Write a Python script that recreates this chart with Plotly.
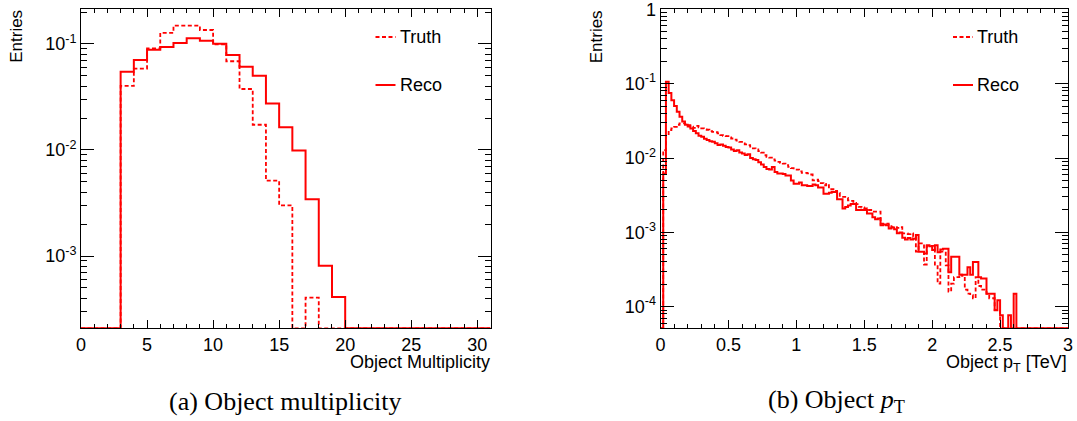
import numpy as np
import plotly.graph_objects as go

# ---------------- data ----------------
# (a) object multiplicity: 31 unit-width bins from 0 to 31
mult_edges = list(range(0, 32))
mult_reco = [0, 0, 0, 0.0548, 0.0706, 0.0883, 0.0937, 0.102, 0.113, 0.107,
             0.1006, 0.0788, 0.0611, 0.0502, 0.0275, 0.0164, 0.0099, 0.00343,
             0.00081, 0.00041, 0, 0, 0, 0, 0, 0, 0, 0, 0, 0, 0]
mult_truth = [0, 0, 0, 0.0402, 0.0585, 0.091, 0.127, 0.149, 0.149, 0.1355,
              0.0993, 0.0687, 0.0376, 0.0173, 0.00513, 0.0030, 0, 0.000405,
              0, 0, 0, 0, 0, 0, 0, 0, 0, 0, 0, 0, 0]

# (b) object pT [TeV]: 150 bins of 0.02 TeV from 0 to 3
pt_edges = [round(0.02 * i, 2) for i in range(151)]
pt_reco = [
    0, 0.0062, 0.106, 0.075, 0.060, 0.050, 0.042, 0.036, 0.031, 0.028,
    0.0265, 0.025, 0.023, 0.0215, 0.0200, 0.0193, 0.0182, 0.0175, 0.0168, 0.0165,
    0.0158, 0.0150, 0.0152, 0.0146, 0.0141, 0.0138, 0.0130, 0.0124, 0.0127, 0.0119,
    0.0115, 0.0110, 0.0112, 0.0100, 0.0096, 0.0094, 0.0088, 0.0082, 0.0076, 0.0071,
    0.0070, 0.0076, 0.0065, 0.0062, 0.0062, 0.0061, 0.0058, 0.0058, 0.0050, 0.0045,
    0.0045, 0.0047, 0.0043, 0.0043, 0.0042, 0.0042, 0.0044, 0.0043, 0.0040, 0.0040,
    0.0033, 0.0033, 0.0034, 0.0035, 0.0035, 0.0028, 0.0028, 0.0021, 0.0022, 0.0023,
    0.0024, 0.0024, 0.0020, 0.0020, 0.0020, 0.0020, 0.0018, 0.0018, 0.0016, 0.0015,
    0.00154, 0.00125, 0.00128, 0.00125, 0.00113, 0.00116, 0.00110, 0.00097, 0.00100, 0.00085,
    0.00080, 0.00084, 0.00080, 0.00082, 0.00092, 0.00055, 0.00055, 0.00052, 0.00067, 0.00065,
    0.00058, 0.00067, 0.00054, 0.00059, 0.00060, 0.00060, 0.00029, 0.00047, 0.00047, 0.00047,
    0.00027, 0.00027, 0.00027, 0.00034, 0.00027, 0.00040, 0.00040, 0.00025, 0.00024, 0.00024,
    0.00015, 0.00015, 0.00015, 0.00009, 0.000122, 0.000077, 0, 0, 0.000077, 0,
    0.00015, 0, 0, 0, 0, 0, 0, 0, 0, 0,
    0, 0, 0, 0, 0, 0, 0, 0, 0, 0,
]
pt_truth = [
    0, 0.0128, 0.0203, 0.0238, 0.0250, 0.0263, 0.0280, 0.0292, 0.0292, 0.0285,
    0.0277, 0.0265, 0.0255, 0.0270, 0.0259, 0.0250, 0.0243, 0.0240, 0.0230, 0.0225,
    0.0222, 0.0215, 0.0203, 0.0199, 0.0197, 0.0190, 0.0183, 0.0177, 0.0171, 0.0165,
    0.0157, 0.0153, 0.0149, 0.0142, 0.0135, 0.0131, 0.0124, 0.0118, 0.0109, 0.0104,
    0.0101, 0.0096, 0.0092, 0.0089, 0.0086, 0.0084, 0.0080, 0.0076, 0.0073, 0.0070,
    0.0070, 0.0066, 0.0063, 0.0063, 0.0062, 0.0060, 0.0050, 0.0051, 0.0049, 0.0046,
    0.0043, 0.0045, 0.0038, 0.0038, 0.0036, 0.0034, 0.0030, 0.0030, 0.0029, 0.0027,
    0.00265, 0.0025, 0.0024, 0.0022, 0.00216, 0.0021, 0.0020, 0.0020, 0.0019, 0.0019,
    0.0019, 0.00131, 0.0013, 0.00131, 0.00125, 0.00118, 0.00118, 0.00115, 0.00118, 0.00097,
    0.00097, 0.00095, 0.00097, 0.00087, 0.00055, 0.00071, 0.00071, 0.00037, 0.00066, 0.00066,
    0.00066, 0.00037, 0.000205, 0.00055, 0.00055, 0.00036, 0.00016, 0.000205, 0.00025, 0.00025,
    0.00027, 0.00026, 0.00017, 0.00015, 0.000143, 0.00013, 0.00025, 0.00019, 0.00017, 0.00017,
    0.00015, 0.00013, 0.00013, 0.00009, 0.00009, 0, 0, 0, 0, 0,
    0, 0, 0, 0, 0, 0, 0, 0, 0, 0,
    0, 0, 0, 0, 0, 0, 0, 0, 0, 0,
]

mult_ticks = [0, 5, 10, 15, 20, 25, 30]
pt_ticks = [0, 0.5, 1, 1.5, 2, 2.5, 3]
pt_tick_text = ["0", "0.5", "1", "1.5", "2", "2.5", "3"]

# ---------------- style ----------------
W, H = 1077, 421
RED = "#ff0000"
FONT = "Liberation Sans, Arial, sans-serif"
SERIF = "Liberation Serif, serif"

# log10 y ranges of the two frames
mult_yrange = [-3.682, -0.673]
pt_yrange = [-4.29, 0.0]

# frame positions in pixels: (left, right, top, bottom)
frame_a = (81, 490.5, 9.3, 328.3)
frame_b = (660.5, 1068, 9.3, 328.3)


def px_x(p):
    return p / W


def px_y(p):
    return 1 - p / H


def step_xy(edges, values, ymin):
    # ROOT-like histogram outline; empty bins rest on the frame bottom
    v = [max(val, ymin) for val in values]
    return list(edges), v + [v[-1]]


def log_minor(lo, hi):
    vals = []
    for d in range(int(np.floor(lo)) - 1, int(np.ceil(hi)) + 1):
        for k in range(2, 10):
            val = k * 10.0 ** d
            if 10 ** lo <= val <= 10 ** hi:
                vals.append(val)
    return vals


fig = go.Figure()

panels = [
    ("x", "y", mult_edges, mult_reco, mult_truth, mult_yrange),
    ("x2", "y2", pt_edges, pt_reco, pt_truth, pt_yrange),
]
for xa, ya, edges, reco, truth, yr in panels:
    ymin = 10 ** yr[0]
    tx, ty = step_xy(edges, truth, ymin)
    fig.add_trace(go.Scatter(x=tx, y=ty, xaxis=xa, yaxis=ya, mode="lines",
                             line=dict(color=RED, width=1.8, dash="4px,2.5px", shape="hv"),
                             name="Truth", showlegend=False, hoverinfo="skip"))
    rx, ry = step_xy(edges, reco, ymin)
    fig.add_trace(go.Scatter(x=rx, y=ry, xaxis=xa, yaxis=ya, mode="lines",
                             line=dict(color=RED, width=2, shape="hv"),
                             name="Reco", showlegend=False, hoverinfo="skip"))

common_axis = dict(showline=True, linecolor="black", linewidth=1, mirror="allticks",
                   ticks="inside", tickcolor="black", tickwidth=1, automargin=False,
                   showgrid=False, zeroline=False, ticklabeloverflow="allow",
                   tickfont=dict(family=FONT, size=18, color="black"))

# x axes
fig.update_layout(
    xaxis=dict(common_axis, domain=[px_x(frame_a[0]), px_x(frame_a[1])], anchor="y",
               range=[0, 31], tickvals=mult_ticks, ticklen=8,
               minor=dict(ticks="inside", ticklen=4, dtick=1, tickcolor="black", showgrid=False)),
    xaxis2=dict(common_axis, domain=[px_x(frame_b[0]), px_x(frame_b[1])], anchor="y2",
                range=[0, 3], tickvals=pt_ticks, ticktext=pt_tick_text, ticklen=8,
                minor=dict(ticks="inside", ticklen=4, dtick=0.1, tickcolor="black", showgrid=False)),
    yaxis=dict(common_axis, type="log", domain=[px_y(frame_a[3]), px_y(frame_a[2])], anchor="x",
               range=mult_yrange, tickvals=[1e-1, 1e-2, 1e-3],
               ticktext=["10<sup>-1</sup>", "10<sup>-2</sup>", "10<sup>-3</sup>"], ticklen=13,
               minor=dict(ticks="inside", ticklen=6, tickvals=log_minor(*mult_yrange),
                          tickcolor="black", showgrid=False)),
    yaxis2=dict(common_axis, type="log", domain=[px_y(frame_b[3]), px_y(frame_b[2])], anchor="x2",
                range=pt_yrange, tickvals=[1, 1e-1, 1e-2, 1e-3, 1e-4],
                ticktext=["1", "10<sup>-1</sup>", "10<sup>-2</sup>", "10<sup>-3</sup>", "10<sup>-4</sup>"],
                ticklen=13,
                minor=dict(ticks="inside", ticklen=6, tickvals=log_minor(*pt_yrange),
                           tickcolor="black", showgrid=False)),
)

annotations = []
shapes = []
# axis titles
for (l, r, t, b), xtitle in [(frame_a, "Object Multiplicity"),
                             (frame_b, "Object p<sub>T</sub> [TeV]")]:
    annotations.append(dict(text=xtitle, x=px_x(r + 1), y=px_y(350), xref="paper", yref="paper",
                            xanchor="right", yanchor="top", showarrow=False,
                            font=dict(family=FONT, size=18, color="black")))
    annotations.append(dict(text="Entries", x=px_x(l - 64), y=px_y(t - 1), xref="paper", yref="paper",
                            xanchor="center", yanchor="top", textangle=-90, showarrow=False,
                            font=dict(family=FONT, size=17, color="black")))
    # legend entries
    for label, ypix, dash in [("Truth", 37, "4px,2.5px"), ("Reco", 85, "solid")]:
        shapes.append(dict(type="line", xref="paper", yref="paper",
                           x0=px_x(r - 115), x1=px_x(r - 95), y0=px_y(ypix), y1=px_y(ypix),
                           line=dict(color=RED, width=2, dash=dash)))
        annotations.append(dict(text=label, x=px_x(r - 93), y=px_y(ypix), xref="paper", yref="paper",
                                xanchor="left", yanchor="middle", showarrow=False,
                                font=dict(family=FONT, size=18, color="black")))

# sub-figure captions
annotations.append(dict(text="(a) Object multiplicity", x=px_x(285), y=px_y(401),
                        xref="paper", yref="paper", xanchor="center", yanchor="middle",
                        showarrow=False, font=dict(family=SERIF, size=26, color="black")))
annotations.append(dict(text="(b) Object <i>p</i><sub>T</sub>", x=px_x(836), y=px_y(401),
                        xref="paper", yref="paper", xanchor="center", yanchor="middle",
                        showarrow=False, font=dict(family=SERIF, size=26, color="black")))

fig.update_layout(width=W, height=H, margin=dict(l=0, r=0, t=0, b=0),
                  paper_bgcolor="white", plot_bgcolor="white",
                  annotations=annotations, shapes=shapes, showlegend=False)

fig.write_html("out.html")
